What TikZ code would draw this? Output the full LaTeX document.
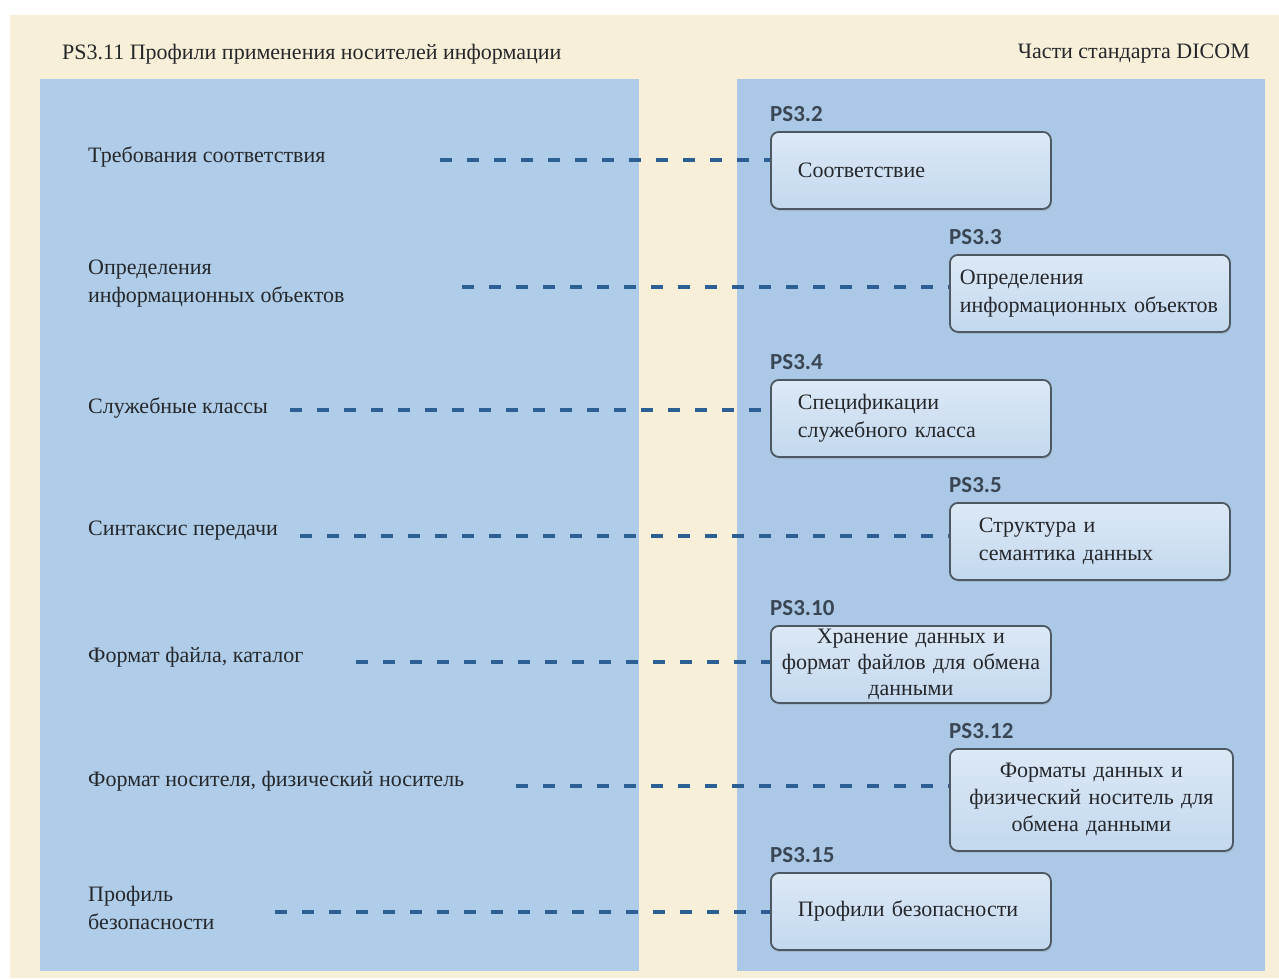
\documentclass[tikz,border=0pt]{standalone}
\usepackage{fontspec}
\setmainfont{Liberation Serif}
\newfontfamily\psfont{Carlito}
\usetikzlibrary{positioning,shadows}

\definecolor{cream}{HTML}{F8EFD8}
\definecolor{panelblue}{HTML}{AFCDE8}
\definecolor{panelblueR}{HTML}{ABC9E6}
\definecolor{boxtop}{HTML}{DCE9F6}
\definecolor{boxbot}{HTML}{C3D8EE}
\definecolor{boxedge}{HTML}{4E5862}
\definecolor{dashblue}{HTML}{2C5F94}
\definecolor{inkgray}{HTML}{25272B}
\definecolor{psgray}{HTML}{3A4654}

\newcommand{\itemfont}{\fontsize{22}{28}\selectfont}

\begin{document}
\begin{tikzpicture}[x=1pt, y=-1pt,
  item/.style={anchor=west, inner sep=0pt, align=left, font=\itemfont, text=inkgray},
  part/.style={draw=boxedge, line width=1.8pt, rounded corners=8pt, top color=boxtop,
               bottom color=boxbot, anchor=north west, minimum width=280pt, minimum height=77pt,
               inner ysep=2pt, font=\itemfont, text=inkgray, align=left,
               drop shadow={shadow xshift=1pt, shadow yshift=-2pt, opacity=0.25}},
  pslabel/.style={inner sep=0pt, font=\psfont\bfseries\fontsize{23}{25}\selectfont, text=psgray},
  link/.style={draw=dashblue, line width=3.5pt, dash pattern=on 12pt off 15pt}]
  \useasboundingbox (0,0) rectangle (1279,978);
  \fill[white] (0,0) rectangle (1279,978);
  \fill[cream] (10,15) rectangle (1279,978);
  \fill[panelblue] (40,79) rectangle (639,971);
  \fill[panelblueR] (737,79) rectangle (1265,971);

  \node[item] (lhead) at (62,54) {PS3.11 Профили применения носителей информации};
  \node[item, anchor=east] (rhead) at (1250,54) {Части стандарта DICOM};

  % profile items
  \node[item] (req) at (88,157) {Требования соответствия};
  \node[item] (iod) at (88,284) {Определения\\информационных объектов};
  \node[item] (svc) at (88,408) {Служебные классы};
  \node[item] (syn) at (88,531) {Синтаксис передачи};
  \node[item] (fmt) at (88,657) {Формат файла, каталог};
  \node[item] (med) at (88,781) {Формат носителя, физический носитель};
  \node[item] (sec) at (88,908) {Профиль\\безопасности};

  % DICOM parts
  \node[part, inner xsep=27pt, text width=226pt] (ps2) at (770,131) {Соответствие};
  \node[part, inner xsep=10pt, text width=260pt] (ps3) at (949,254)
      {Определения\\информационных объектов};
  \node[part, inner xsep=27pt, text width=226pt] (ps4) at (770,379)
      {Спецификации\\служебного класса};
  \node[part, inner xsep=29pt, text width=222pt] (ps5) at (949,502)
      {Структура и\\семантика данных};
  \node[part, align=center, inner xsep=8pt, inner ysep=0pt, text width=264pt,
        font=\fontsize{22}{26}\selectfont] (ps10) at (770,625)
      {Хранение данных и\\формат файлов для обмена\\данными};
  \node[part, align=center, inner xsep=10pt, text width=263pt, minimum width=283pt,
        minimum height=102pt, font=\fontsize{22}{27}\selectfont] (ps12) at (949,748)
      {Форматы данных и\\физический носитель для\\обмена данными};
  \node[part, inner xsep=27pt, text width=226pt] (ps15) at (770,872) {Профили безопасности};

  \foreach \b/\t in {ps2/PS3.2, ps3/PS3.3, ps4/PS3.4, ps5/PS3.5, ps10/PS3.10, ps12/PS3.12, ps15/PS3.15}
    \node[pslabel, above=9pt of \b.north west, anchor=south west] (l\b) {\t};

  % dashed links
  \coordinate (c2) at (440,160);
  \coordinate (c3) at (462,287);
  \coordinate (c4) at (290,410);
  \coordinate (c5) at (300,536);
  \coordinate (c10) at (356,662);
  \coordinate (c12) at (516,786);
  \coordinate (c15) at (275,912);
  \foreach \n in {2,3,4,5,10,12,15}
    \draw[link] (c\n) -- (c\n -| ps\n.west);
\end{tikzpicture}
\end{document}
